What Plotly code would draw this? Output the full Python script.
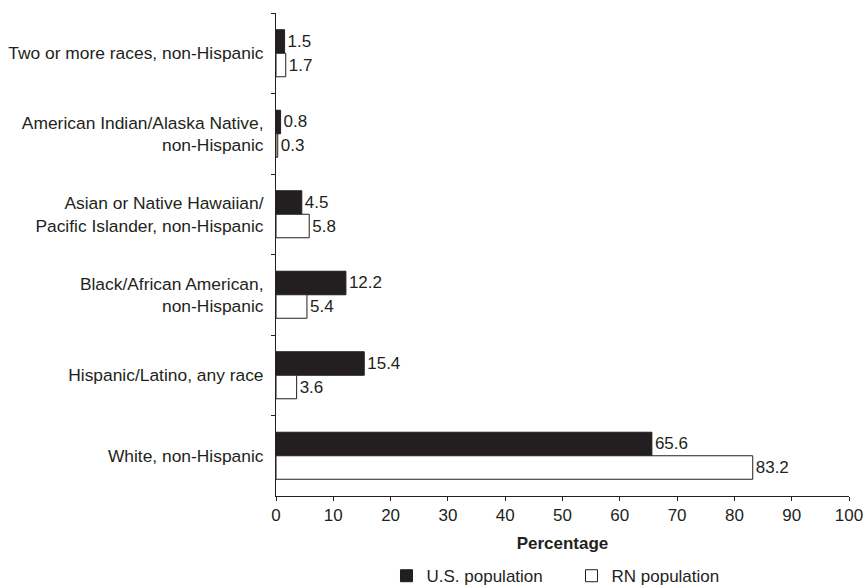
import plotly.graph_objects as go

categories = [
    "Two or more races, non-Hispanic",
    "American Indian/Alaska Native,<br>non-Hispanic",
    "Asian or Native Hawaiian/<br>Pacific Islander, non-Hispanic",
    "Black/African American,<br>non-Hispanic",
    "Hispanic/Latino, any race",
    "White, non-Hispanic",
]
us_population = [1.5, 0.8, 4.5, 12.2, 15.4, 65.6]
rn_population = [1.7, 0.3, 5.8, 5.4, 3.6, 83.2]
x_ticks = [0, 10, 20, 30, 40, 50, 60, 70, 80, 90, 100]

ink = "#231f20"
font = dict(family="Liberation Sans, Arial, sans-serif", size=17, color=ink)

fig = go.Figure()
fig.add_trace(go.Bar(
    y=categories, x=us_population, orientation="h", name="U.S. population",
    marker=dict(color=ink, line=dict(color=ink, width=1)),
    text=[f"{v:.1f}" for v in us_population], textposition="outside",
    textfont=font, cliponaxis=False,
))
fig.add_trace(go.Bar(
    y=categories, x=rn_population, orientation="h", name="RN population",
    marker=dict(color="white", line=dict(color=ink, width=1)),
    text=[f"{v:.1f}" for v in rn_population], textposition="outside",
    textfont=font, cliponaxis=False,
))

fig.update_layout(
    width=865, height=587,
    margin=dict(l=276, r=16, t=13, b=91, autoexpand=False),
    barmode="group", bargap=0.416, bargroupgap=0,
    plot_bgcolor="white", paper_bgcolor="white",
    font=font,
    showlegend=True,
    legend=dict(orientation="h", x=0.5157, xanchor="center", y=-0.166,
                yanchor="middle", font=font, itemwidth=30, entrywidth=140),
)
fig.update_xaxes(
    range=[0, 100], tickvals=x_ticks, ticks="outside", ticklen=4,
    tickcolor=ink, showline=True, linecolor=ink, linewidth=1,
    showgrid=False, zeroline=False, automargin=False,
    title=dict(text="<b>Percentage</b>", font=font, standoff=12),
)
fig.update_yaxes(
    type="category", autorange="reversed", ticks="outside", ticklen=4,
    tickson="boundaries", tickcolor=ink, showline=True, linecolor=ink,
    linewidth=1, showgrid=False, ticklabelstandoff=8, automargin=False,
    tickfont=dict(family="Liberation Sans, Arial, sans-serif", size=17.4, color=ink),
)

fig.write_html(
    "out.html",
    config={"displayModeBar": False},
    post_script="document.body.style.margin='0';document.body.style.overflow='hidden';",
)
